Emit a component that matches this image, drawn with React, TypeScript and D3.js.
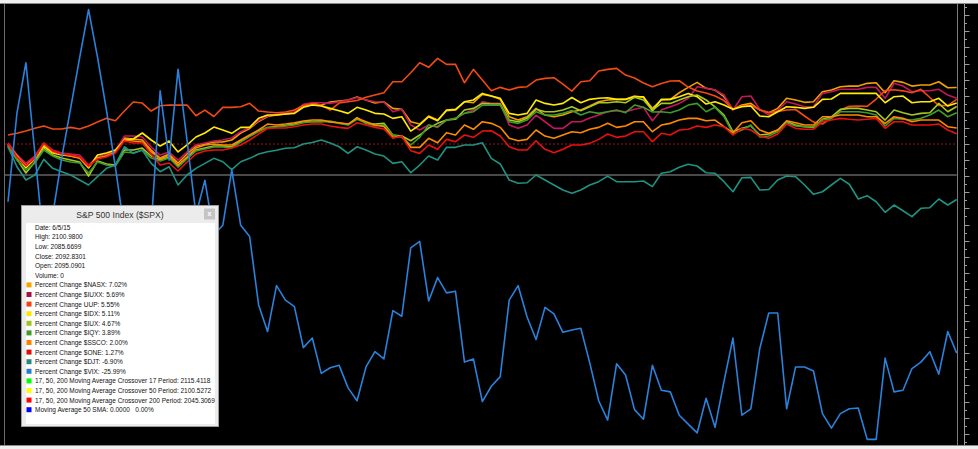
import * as d3 from 'd3';

const WIDTH = 978;
const HEIGHT = 449;
const plot = { left: 8, right: 956.7, top: 4, bottom: 445 };

// percent change per session, oldest first (last session = 6/5/15)
const nasx = [
  0, -1.37, -2.61, -1.61, 0, -0.87, -1.24, -1.37, -1.61, -2.86,
  -1.61, -1.37, -0.87, 0.75, 0.62, 0.5, -0.75, -1.74, -1.24, -2.36,
  -1.24, -0.25, 0, 0.25, 0.25, 0.5, 1.37, 1.93, 2.8, 3.42,
  3.6, 3.73, 3.89, 4.72, 5.05, 4.84, 5.22, 5.34, 5.47, 5.84,
  5.47, 5.09, 5.25, 4.43, 4.31, 2.77, 2.48, 3.48, 2.98, 4.14,
  4.22, 5.25, 5.13, 6.17, 5.96, 5.55, 3.39, 2.98, 3.39, 4.43,
  3.6, 3.39, 3.6, 4.01, 4.22, 4.72, 5.25, 5.47, 5.55, 5.55,
  5.96, 5.8, 4.43, 5.47, 5.55, 6.37, 7.04, 7.66, 6.92, 6.71,
  5.88, 4.31, 4.84, 5.05, 4.22, 3.89, 4.43, 5.68, 5.47, 5.18,
  5.25, 6.5, 6.71, 7.12, 7.2, 7.2, 7.54, 7.62, 6.37, 7.86,
  7.66, 7.2, 7.33, 7.33, 7.74, 6.99, 7.02,
];
const iuxx = [
  0.12, -1.37, -2.36, -1.49, 0.12, -0.75, -1.12, -1.24, -1.37, -2.61,
  -1.61, -1.37, -0.87, 0.99, 0.99, 0.87, -0.37, -1.37, -0.99, -1.99,
  -0.99, -0.12, 0.12, 0.37, 0.5, 0.75, 1.53, 2.07, 2.89, 3.48,
  3.69, 3.81, 4.01, 4.93, 5.13, 5.13, 5.05, 5.25, 5.47, 5.77,
  5.47, 5.25, 5.22, 4.01, 4.31, 2.36, 1.74, 2.36, 2.07, 2.98,
  3.19, 3.81, 4.22, 5.25, 5.05, 5.05, 2.36, 1.95, 2.36, 3.6,
  2.77, 1.95, 1.95, 2.77, 2.77, 3.23, 3.6, 4.01, 4.14, 4.01,
  4.31, 4.56, 2.89, 4.22, 4.63, 5.05, 5.68, 7.12, 6.92, 6.71,
  6.09, 4.22, 5.88, 5.96, 4.31, 3.6, 4.22, 5.25, 4.97, 4.63,
  4.63, 6.29, 6.5, 6.8, 6.8, 6.8, 7.04, 7.04, 5.68, 7.55,
  7.21, 6.5, 6.62, 6.62, 6.8, 6.09, 5.69,
];
const uup = [
  1.12, 1.33, 1.61, 1.95, 2.24, 1.86, 1.86, 2.07, 1.86, 2.24,
  2.73, 3.19, 2.89, 4.1, 5.22, 5.09, 4.1, 4.76, 4.84, 4.84,
  4.84, 3.52, 4.22, 3.42, 4.56, 4.56, 4.63, 5.06, 4.1, 3.98,
  3.89, 3.98, 4.22, 4.78, 5.01, 4.84, 4.22, 5.09, 5.25, 5.4,
  5.8, 6.09, 6.37, 7.74, 7.74, 8.86, 10.1, 9.53, 10.65, 9.9,
  9.9, 7.61, 9.28, 7.95, 6.62, 7.04, 6.71, 7.04, 7.12, 7.95,
  8.16, 8.24, 7.45, 6.58, 7.74, 7.86, 9.07, 9.28, 9.4, 8.57,
  8.2, 7.58, 7.12, 7.52, 7.83, 7.86, 7.08, 6.58, 6.34, 5.96,
  5.4, 4.31, 4.72, 4.82, 4.26, 3.91, 4.04, 4.22, 4.29, 3.48,
  2.73, 2.48, 3.23, 4.22, 4.68, 4.72, 4.68, 5.59, 6.65, 6.75,
  6.61, 6.37, 6.8, 5.78, 4.78, 4.78, 5.55,
];
const idx = [
  -0.12, -1.49, -2.98, -1.86, -0.25, -1.12, -1.37, -1.49, -1.74, -2.98,
  -1.37, -1.12, -0.75, 0.5, 0.62, 1.37, 0.5, -0.25, 0.37, -0.99,
  -0.12, 0.87, 1.37, 2.11, 1.74, 1.33, 2.07, 2.07, 3.19, 3.6,
  3.6, 3.73, 3.81, 4.56, 4.84, 4.72, 4.43, 4.13, 3.81, 4.56,
  4.22, 3.81, 3.73, 3.19, 3.39, 1.61, 2.36, 3.39, 2.89, 4.22,
  4.31, 5.25, 5.47, 6.29, 5.96, 5.68, 3.81, 3.6, 3.81, 5.47,
  5.05, 4.84, 5.05, 5.78, 5.13, 5.55, 5.68, 5.75, 5.55, 5.55,
  5.88, 5.88, 4.13, 5.55, 5.55, 5.88, 6.29, 5.88, 4.97, 5.25,
  4.84, 4.31, 4.63, 4.72, 3.48, 3.39, 4.01, 4.63, 4.56, 4.43,
  4.56, 5.55, 5.59, 6.29, 6.29, 6.29, 6.29, 6.29, 5.13, 5.88,
  5.96, 5.13, 5.25, 5.25, 5.68, 4.72, 5.11,
];
const iux = [
  -0.25, -1.86, -3.6, -2.24, -0.5, -1.37, -1.74, -1.99, -2.24, -3.98,
  -2.11, -2.48, -2.61, -0.75, -0.75, -0.5, -1.49, -1.99, -1.61, -2.73,
  -1.74, -0.75, -0.5, -0.25, -0.25, -0.37, 0.37, 0.99, 1.61, 2.05,
  2.17, 2.3, 2.48, 2.73, 2.8, 2.86, 2.73, 2.61, 2.42, 3.27,
  2.57, 2.48, 2.57, 1.12, 0.99, 0.41, 1.12, 1.99, 2.57, 2.98,
  3.07, 4.22, 4.43, 5.05, 4.97, 4.97, 2.98, 2.77, 3.19, 4.31,
  4.01, 4.01, 4.22, 4.63, 4.13, 4.63, 5.13, 5.13, 5.25, 5.13,
  5.8, 5.47, 4.22, 5.05, 5.05, 5.47, 5.88, 6.09, 5.47, 4.63,
  3.6, 1.53, 1.95, 2.24, 1.12, 1.24, 1.74, 2.77, 2.36, 2.15,
  2.07, 3.07, 3.39, 4.31, 4.43, 4.43, 4.22, 4.01, 2.98, 4.22,
  3.89, 3.6, 3.81, 3.89, 5.05, 4.01, 4.67,
];
const iqy = [
  -0.37, -1.99, -3.23, -2.36, -0.75, -1.49, -1.99, -2.24, -2.36, -3.6,
  -2.24, -2.61, -2.73, -0.99, -1.12, -0.75, -1.74, -2.11, -1.74, -2.86,
  -1.86, -0.87, -0.62, -0.37, -0.37, -0.5, 0.25, 0.93, 1.55, 2.05,
  2.11, 2.24, 2.36, 2.65, 2.77, 2.73, 2.86, 2.55, 2.36, 3.07,
  2.61, 2.24, 2.36, 1.12, 0.83, -0.12, 0.83, 2.36, 2.15, 2.98,
  3.19, 3.81, 4.01, 4.84, 4.84, 4.84, 2.77, 2.57, 2.98, 4.01,
  3.6, 3.6, 3.81, 4.16, 3.6, 4.01, 3.81, 4.01, 4.22, 3.89,
  4.84, 4.56, 3.98, 4.01, 3.89, 4.22, 4.84, 5.05, 4.01, 4.56,
  3.39, 1.32, 1.74, 2.36, 0.87, 0.99, 1.53, 2.65, 2.24, 2.15,
  2.15, 2.98, 3.19, 4.01, 4.01, 4.01, 3.89, 3.6, 2.24, 3.19,
  3.07, 2.98, 3.19, 3.6, 4.22, 3.39, 3.89,
];
const ssco = [
  -0.12, -1.49, -2.73, -1.74, 0, -0.99, -1.24, -1.49, -1.74, -2.86,
  -1.74, -1.49, -0.99, 0.5, 0.37, 0.25, -0.99, -1.86, -1.37, -2.61,
  -1.61, -0.5, -0.12, 0, -0.12, -0.12, 0.5, 1.12, 1.74, 2.48,
  2.36, 2.48, 2.65, 2.86, 2.98, 2.98, 2.77, 2.65, 2.48, 3.19,
  2.77, 2.36, 2.17, 0.83, 0.99, -0.41, -0.41, 0.71, 0.16, 1.41,
  1.12, 2.36, 1.83, 2.77, 2.57, 2.07, 0.71, 0.41, 0.58, 1.74,
  0.99, 0.71, 1.12, 1.53, 1.41, 1.83, 2.07, 2.57, 2.07, 2.24,
  2.77, 2.77, 1.53, 2.36, 2.57, 2.98, 3.19, 3.19, 2.89, 2.98,
  2.15, 1.41, 2.65, 2.89, 1.74, 1.33, 1.74, 2.89, 2.65, 2.36,
  2.36, 3.39, 3.39, 3.6, 3.6, 3.6, 3.39, 3.39, 2.57, 3.39,
  3.19, 2.77, 2.98, 2.98, 2.98, 2.15, 2.0,
];
const one = [
  0, -1.61, -2.73, -1.74, 0.12, -0.87, -1.24, -1.37, -1.61, -2.73,
  -1.86, -1.61, -1.12, 0.37, 0.12, 0.12, -1.24, -2.61, -2.36, -3.35,
  -2.24, -1.24, -0.87, -0.75, -0.75, -0.5, -0.12, 0.5, 1.24, 1.93,
  1.99, 1.99, 2.15, 2.36, 2.48, 2.48, 2.24, 2.07, 1.95, 2.65,
  2.36, 2.07, 1.86, 0.71, 0.99, -0.83, -1.16, -0.12, -0.66, 0.58,
  0.29, 1.12, 0.83, 1.61, 1.65, 0.99, -0.33, -0.75, -0.75, 0.41,
  -0.66, -1.08, -0.66, -0.12, -0.12, 0.08, 0.58, 1.24, 0.83, 0.99,
  1.53, 1.53, 0.29, 1.33, 1.12, 1.74, 1.83, 2.24, 2.07, 2.36,
  2.15, 1.12, 1.95, 1.74, 0.99, 0.71, 1.24, 2.48, 1.95, 1.83,
  1.83, 2.77, 2.98, 3.19, 3.07, 2.98, 3.07, 3.19, 1.95, 2.77,
  2.77, 2.36, 2.36, 2.36, 2.48, 1.74, 1.27,
];
const djt = [
  -0.34, -2.82, -4.47, -3.85, -1.9, -3.02, -3.44, -3.85, -4.47, -5.09,
  -4.06, -3.02, -2.61, -0.34, -1.16, -0.75, -2.4, -3.44, -2.82, -5.09,
  -3.85, -3.02, -2.4, -1.78, -2.2, -3.17, -2.2, -1.78, -1.24, -0.96,
  -0.78, -0.53, -0.47, 0, 0.19, 0.5, 0.12, -0.34, -1.16, -0.34,
  -0.75, -1.24, -1.49, -2.4, -2.2, -3.57, -2.61, -1.49, -1.99, -0.41,
  -0.41, -0.12, -0.12, 0.16, -1.78, -2.48, -4.47, -4.88, -4.81, -3.85,
  -4.47, -5.09, -5.71, -6.12, -5.71, -5.09, -4.68, -3.98, -4.68, -4.68,
  -4.68, -4.6, -5.3, -3.64, -3.44, -2.89, -2.52, -2.73, -3.57, -3.64,
  -4.68, -5.93, -4.19, -4.14, -5.71, -5.65, -4.47, -3.98, -4.06, -5.09,
  -6.25, -5.93, -5.09, -4.26, -5.0, -6.83, -6.42, -7.17, -8.48, -7.58,
  -8.29, -9.03, -7.99, -7.91, -6.83, -7.58, -6.9,
];
const vix = [
  -7.17, 3.85, 10.1, -1.12, -12.4, -8.8, -1.74, 4.47, 10.7, 16.7,
  10.8, 4.2, -2.86, -10.7, -14.4, -13.2, -10.1, 6.6, -2.0, 9.3,
  0.5, -8.8, -4.5, -11.3, -10.1, -3.2, -10.1, -11.5, -20.0, -23.3,
  -17.6, -19.4, -20.2, -25.3, -24.1, -28.5, -27.8, -27.5, -30.3, -31.9,
  -27.7, -25.8, -26.7, -20.7, -21.4, -12.9, -12.1, -19.5, -16.6, -18.5,
  -18.3, -27.1, -26.7, -32.0, -30.1, -28.9, -19.4, -17.6, -21.5, -24.3,
  -20.3, -21.1, -23.4, -23.1, -22.9, -27.2, -31.9, -34.3, -27.3, -28.7,
  -33.0, -34.2, -27.5, -30.6, -30.8, -33.7, -34.8, -35.9, -31.6, -35.2,
  -29.5, -24.1, -33.7, -32.9, -25.4, -21.0, -21.0, -32.9, -27.7, -27.7,
  -28.2, -33.5, -35.3, -33.5, -32.9, -32.8, -36.7, -36.7, -26.6, -30.8,
  -30.6, -27.9, -27.1, -25.8, -28.6, -23.3, -25.99,
];

const greyLevel = -3.85;
const yDomain = [-37.4, 17.4];

const series = [
  { key: '$NASX', color: '#f2a100', values: nasx },
  { key: '$IUXX', color: '#c4175b', values: iuxx },
  { key: 'UUP', color: '#f24a12', values: uup },
  { key: '$IDX', color: '#ffec00', values: idx },
  { key: '$IUX', color: '#a6c823', values: iux },
  { key: '$IQY', color: '#3e9a2a', values: iqy },
  { key: '$SSCO', color: '#ff8a00', values: ssco },
  { key: '$ONE', color: '#ea1010', values: one },
  { key: '$DJT', color: '#1f9282', values: djt },
  { key: '$VIX', color: '#2a82dc', values: vix },
];

const infoLines = [
  'Date: 6/5/15',
  'High: 2100.9800',
  'Low: 2085.6699',
  'Close: 2092.8301',
  'Open: 2095.0901',
  'Volume: 0',
];
const legendRows = [
  { label: 'Percent Change $NASX: 7.02%', color: '#f5a300' },
  { label: 'Percent Change $IUXX: 5.69%', color: '#a3103f' },
  { label: 'Percent Change UUP: 5.55%', color: '#f2400f' },
  { label: 'Percent Change $IDX: 5.11%', color: '#ffe600' },
  { label: 'Percent Change $IUX: 4.67%', color: '#9cc41e' },
  { label: 'Percent Change $IQY: 3.89%', color: '#3f9a26' },
  { label: 'Percent Change $SSCO: 2.00%', color: '#ff8000' },
  { label: 'Percent Change $ONE: 1.27%', color: '#e00a0a' },
  { label: 'Percent Change $DJT: -6.90%', color: '#2a8a7a' },
  { label: 'Percent Change $VIX: -25.99%', color: '#2a7ad2' },
  { label: '17, 50, 200 Moving Average Crossover 17 Period: 2115.4118', color: '#00ff00' },
  { label: '17, 50, 200 Moving Average Crossover 50 Period: 2100.5272', color: '#ffff00' },
  { label: '17, 50, 200 Moving Average Crossover 200 Period: 2045.3069', color: '#ff0000' },
  { label: 'Moving Average 50 SMA: 0.0000   0.00%', color: '#0000ff' },
];

function Tooltip() {
  const x = 21, y = 205, w = 198, h = 222;
  const rowStep = 9.6;
  const firstRow = 227.3;
  const rows = [
    ...infoLines.map(label => ({ label, color: null as string | null })),
    ...legendRows,
  ];
  return (
    <g fontFamily="'Liberation Sans', Arial, sans-serif">
      <rect x={x + 0.5} y={y + 0.5} width={w - 1} height={h - 1} fill="#ececec" stroke="#9c9c9c" />
      <text x={120} y={218} fontSize={8.6} textAnchor="middle" fill="#333">
        S&amp;P 500 Index ($SPX)
      </text>
      <rect x={204} y={208.5} width={11} height={11} fill="#c4c4c4" />
      <text x={209.5} y={216.3} fontSize={7} textAnchor="middle" fill="#fff" fontWeight="bold">x</text>
      <rect x={26} y={223} width={189} height={201} fill="#fff" />
      {rows.map((r, i) => {
        const cy = firstRow + i * rowStep;
        return (
          <g key={i}>
            {r.color && <rect x={26.5} y={cy - 2.5} width={5} height={5} fill={r.color} />}
            <text x={35} y={cy + 2.4} fontSize={6.5} fill="#111" xmlSpace="preserve">
              {r.label}
            </text>
          </g>
        );
      })}
    </g>
  );
}

export default function App() {
  const n = nasx.length;
  const xScale = d3.scaleLinear().domain([0, n - 1]).range([plot.left, plot.right]);
  const yScale = d3.scaleLinear().domain(yDomain).range([plot.bottom, plot.top]);
  const line = d3.line<number>().x((_, i) => xScale(i)).y(d => yScale(d));

  const ticks = d3.range(Math.ceil(yDomain[0]), Math.floor(yDomain[1]) + 1);

  return (
    <svg
      width={WIDTH}
      height={HEIGHT}
      style={{ position: 'absolute', left: 0, top: 0, display: 'block' }}
    >
      <rect width={WIDTH} height={HEIGHT} fill="#000" />
      <rect width={WIDTH} height={3} fill="#efefef" />
      <rect y={446} width={WIDTH} height={3} fill="#efefef" />
      <line x1={0} x2={WIDTH} y1={3.5} y2={3.5} stroke="#8a8a8a" />
      <line x1={0} x2={WIDTH} y1={445.5} y2={445.5} stroke="#8a8a8a" />
      <line x1={4.5} x2={4.5} y1={4} y2={445} stroke="#6a6a6a" />

      {/* reference levels */}
      <line
        x1={plot.left - 3}
        x2={plot.right}
        y1={yScale(0)}
        y2={yScale(0)}
        stroke="#a01414"
        strokeWidth={1}
        strokeDasharray="2,2"
      />
      <line
        x1={plot.left - 3}
        x2={plot.right}
        y1={yScale(greyLevel)}
        y2={yScale(greyLevel)}
        stroke="#4a4a4a"
        strokeWidth={2}
      />

      {series.map(s => (
        <path
          key={s.key}
          d={line(s.values) || ''}
          fill="none"
          stroke={s.color}
          strokeWidth={1.6}
          strokeLinejoin="round"
        />
      ))}

      {/* right price axis (its labels fall outside the window) */}
      <line x1={957.5} x2={957.5} y1={4} y2={445} stroke="#7a7a7a" />
      <line x1={964.5} x2={964.5} y1={4} y2={445} stroke="#9a9a9a" />
      {ticks.map(t => (
        <line
          key={t}
          x1={964.5}
          x2={t % 2 === 0 ? 969.5 : 967}
          y1={Math.round(yScale(t)) + 0.5}
          y2={Math.round(yScale(t)) + 0.5}
          stroke="#9a9a9a"
        />
      ))}

      <Tooltip />
    </svg>
  );
}
